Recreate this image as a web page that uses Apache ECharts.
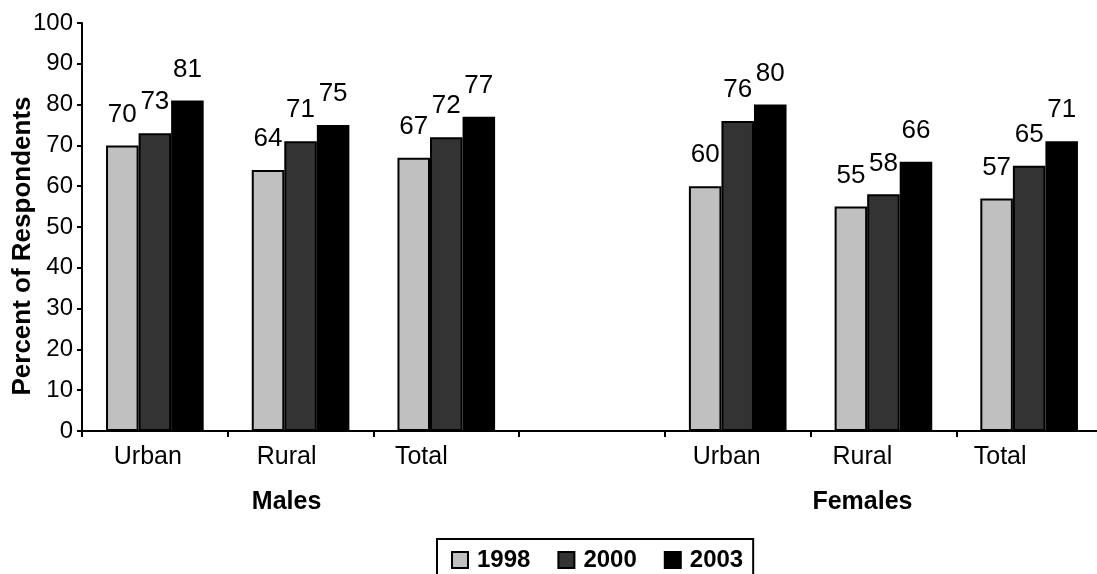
<!DOCTYPE html>
<html>
<head>
<meta charset="utf-8">
<script src="https://cdn.jsdelivr.net/npm/echarts@6/dist/echarts.min.js"></script>
<style>
html,body{margin:0;padding:0;background:#fff;}
#chart{width:1097px;height:574px;}
</style>
</head>
<body>
<div id="chart"></div>
<script>
var categories = ['Urban', 'Rural', 'Total', '', 'Urban', 'Rural', 'Total'];
var groupLabels = ['', 'Males', '', '', '', 'Females', ''];
var seriesNames = ['1998', '2000', '2003'];
var values1998 = [70, 64, 67, null, 60, 55, 57];
var values2000 = [73, 71, 72, null, 76, 58, 65];
var values2003 = [81, 75, 77, null, 80, 66, 71];
var colors = ['#c0c0c0', '#333333', '#000000'];
var yTicks = [0, 10, 20, 30, 40, 50, 60, 70, 80, 90, 100];

// leftward shift (px) of each category label, as in the reference
var labelShift = [7, 14, 25, 0, 11, 21, 29];

var FONT = '"Liberation Sans", Arial, sans-serif';

function catData(arr, bold) {
  return arr.map(function (c, i) {
    return {
      value: c,
      textStyle: {
        padding: [0, labelShift[i] * 2, 0, 0],
        fontWeight: bold ? 'bold' : 'normal'
      }
    };
  });
}

var allValues = [values1998, values2000, values2003];

var series = seriesNames.map(function (name, i) {
  return {
    name: name,
    type: 'bar',
    xAxisIndex: 0,
    data: allValues[i],
    barGap: '0%',
    barCategoryGap: '33%',
    itemStyle: {color: colors[i], borderColor: '#000', borderWidth: 2},
    label: {
      show: true,
      position: 'top',
      distance: 18,
      color: '#000',
      fontSize: 26,
      fontFamily: FONT
    },
    emphasis: {disabled: true}
  };
});

var chart = echarts.init(document.getElementById('chart'), null, {renderer: 'canvas'});
chart.setOption({
  animation: false,
  backgroundColor: '#fff',
  textStyle: {fontFamily: FONT, color: '#000'},
  grid: {left: 82, top: 23, width: 1020, height: 408, containLabel: false, outerBoundsMode: 'none'},
  legend: {
    data: seriesNames,
    left: 437,
    top: 539,
    orient: 'horizontal',
    itemWidth: 16,
    itemHeight: 16,
    itemGap: 27,
    padding: [9, 10, 12, 14],
    borderColor: '#000',
    borderWidth: 2,
    icon: 'rect',
    textStyle: {fontSize: 24, fontWeight: 'bold', color: '#000', fontFamily: FONT, padding: [0, 0, 0, 4]}
  },
  xAxis: [
    {
      type: 'category',
      data: catData(categories, false),
      position: 'bottom',
      axisLine: {lineStyle: {color: '#000', width: 2}},
      axisTick: {show: true, alignWithLabel: false, length: 6, lineStyle: {color: '#000', width: 2}},
      axisLabel: {color: '#000', fontSize: 25, margin: 14, interval: 0, fontFamily: FONT},
      splitLine: {show: false}
    },
    {
      type: 'category',
      data: catData(groupLabels, true),
      position: 'bottom',
      axisLine: {show: false},
      axisTick: {show: false},
      axisLabel: {color: '#000', fontSize: 25, fontWeight: 'bold', margin: 59, interval: 0, fontFamily: FONT},
      splitLine: {show: false}
    }
  ],
  yAxis: {
    type: 'value',
    min: 0,
    max: 100,
    interval: 10,
    name: 'Percent of Respondents',
    nameLocation: 'middle',
    nameGap: 46,
    nameMoveOverlap: false,
    nameTextStyle: {fontSize: 26, fontWeight: 'bold', color: '#000', fontFamily: FONT, padding: [0, 38, 0, 0]},
    axisLine: {show: true, lineStyle: {color: '#000', width: 2}},
    axisTick: {show: true, length: 5, lineStyle: {color: '#000', width: 2}},
    axisLabel: {color: '#000', fontSize: 24, margin: 9, fontFamily: FONT,
      formatter: function (v) { return yTicks.indexOf(v) >= 0 ? String(v) : ''; }},
    splitLine: {show: false}
  },
  series: series
});
</script>
</body>
</html>
